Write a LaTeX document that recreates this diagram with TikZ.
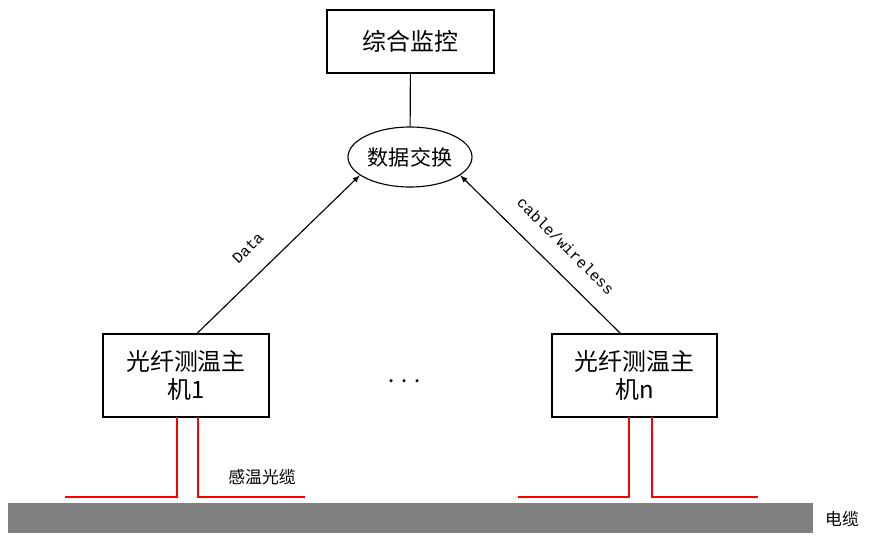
\documentclass[tikz,border=0pt]{standalone}
\usepackage{fontspec}
\newfontfamily\cjk{Noto Sans CJK SC}
\newfontfamily\mono{Liberation Mono}
\usetikzlibrary{arrows,calc,shapes}
\tikzset{>=latex}
\tikzstyle{box}=[rectangle,draw=black,thick,align=center,font=\cjk\fontsize{17}{20}\selectfont]
\tikzstyle{fiber}=[red,thick]

\begin{document}
\begin{tikzpicture}[x=0.025cm,y=-0.025cm]
	\useasboundingbox (0,0) rectangle (872,541);
	
	\node[box, minimum width=167*0.025cm, minimum height=63*0.025cm] (mon) at (410.5,41.5) {综合监控};
	\node[ellipse, draw, thick, minimum width=124*0.025cm, minimum height=60*0.025cm, inner sep=0pt, font=\cjk\fontsize{15}{17}\selectfont] (sw) at (410,157) {数据交换};
	\node[box, minimum width=166*0.025cm, minimum height=83*0.025cm] (h1) at (186,375.5) {光纤测温主\\机1};
	\node[box, minimum width=165*0.025cm, minimum height=83*0.025cm] (hn) at (634.5,375.5) {光纤测温主\\机n};
	\node[font=\fontsize{22}{22}\selectfont] (dots) at (405,382) {$\cdots$};
	
	\draw[thick] (mon) -- (sw);
	\draw[->,thick] (h1.north) ++(11,0) coordinate (a1) -- (sw.200);
	\draw[->,thick] (hn.north) ++(-14,0) coordinate (an) -- (sw.340);
	\node[rotate=45, font=\mono\fontsize{11}{11}\selectfont] (data) at (248,248) {Data};
	\node[rotate=-45, font=\mono\fontsize{11}{11}\selectfont] (cab) at (566,246) {cable/wireless};
	
	% cable
	\fill[gray] (8,503) rectangle (813,533);
	\node[font=\cjk\fontsize{12}{12}\selectfont] (cb) at (842,519) {电缆};
	\node[font=\cjk\fontsize{12}{12}\selectfont] (fc) at (262,477) {感温光缆};
	
	\draw[fiber] (65,497) -- (177,497) -- (177,417);
	\draw[fiber] (305,497) -- (198,497) -- (198,417);
	\draw[fiber] (518,497) -- (629,497) -- (629,417);
	\draw[fiber] (758,497) -- (652,497) -- (652,417);
\end{tikzpicture}
\end{document}
